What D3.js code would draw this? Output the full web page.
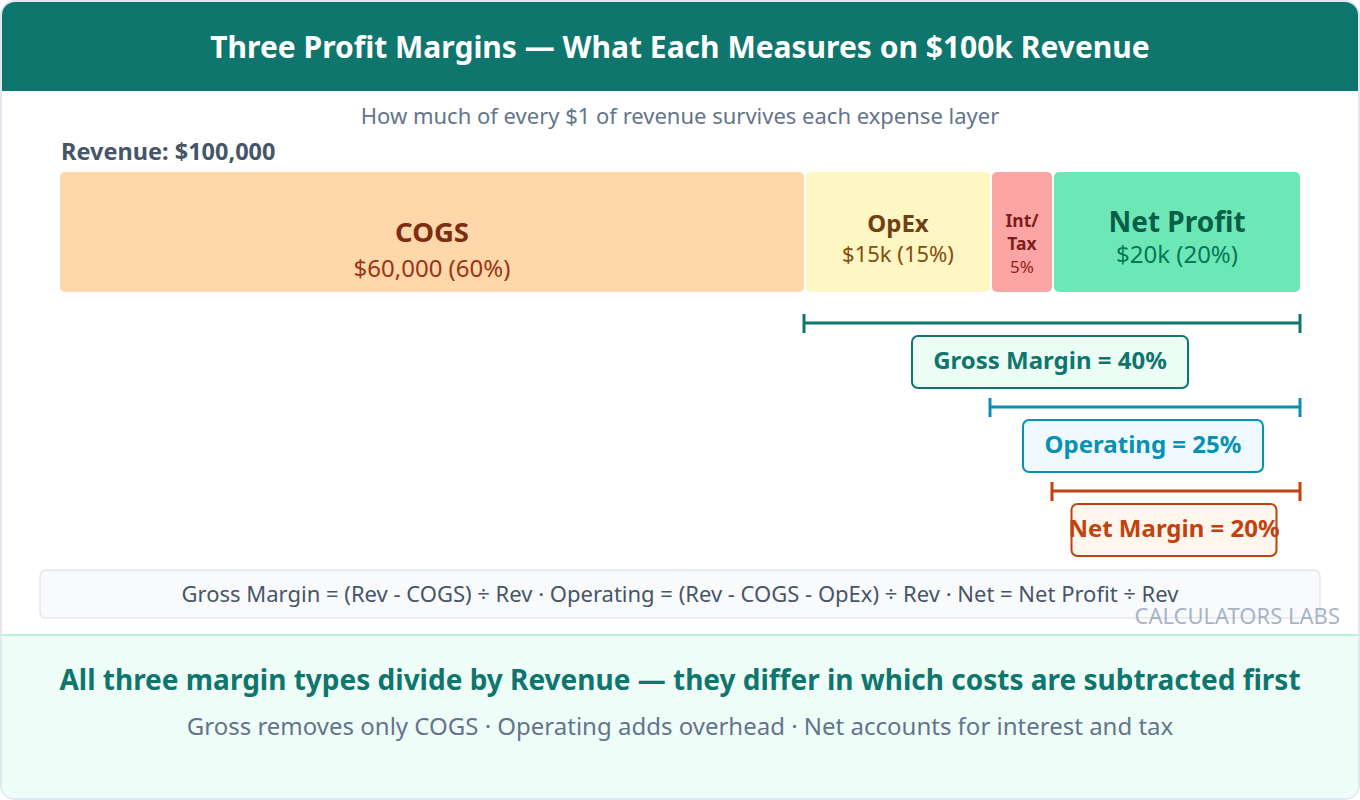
<!DOCTYPE html>
<html>
<head>
<meta charset="utf-8">
<script src="https://cdn.jsdelivr.net/npm/d3@7"></script>
<style>
  body { margin: 0; background: #ffffff; }
  svg text { font-family: "Noto Sans", "Open Sans", sans-serif; }
</style>
</head>
<body>
<script>
// chart data
var revenue = 100000;
var segNames = ["COGS", "OpEx", "Int/Tax", "Net Profit"];
var segValues = [60, 15, 5, 20];           // % of revenue
var segAmounts = ["$60,000 (60%)", "$15k (15%)", "5%", "$20k (20%)"];
var segFill = ["#fed7aa", "#fef7c3", "#fca5a5", "#6ee7b7"];
var segInk = ["#7c2d12", "#713f12", "#7f1d1d", "#065f46"];
var segSubInk = ["#9a3412", "#854d0e", "#991b1b", "#047857"];

var marginNames = ["Gross Margin", "Operating", "Net Margin"];
var marginValues = [40, 25, 20];
var marginColor = ["#0f766e", "#0891b2", "#c2410c"];
var marginFill = ["#ecfdf5", "#f0f9ff", "#fff7ed"];
var marginBoxW = [276, 240, 205];

var W = 1360, H = 800;

var svg = d3.select("body").append("svg")
    .attr("width", W)
    .attr("height", H);

// card
svg.append("rect")
    .attr("x", 1).attr("y", 1).attr("width", W - 2).attr("height", H - 2)
    .attr("rx", 14).attr("fill", "#ffffff").attr("stroke", "#e2e8f0").attr("stroke-width", 2);

var clip = svg.append("clipPath").attr("id", "card");
clip.append("rect").attr("x", 2).attr("y", 2).attr("width", W - 4).attr("height", H - 4).attr("rx", 13);

var card = svg.append("g").attr("clip-path", "url(#card)");
card.append("rect").attr("x", 0).attr("y", 0).attr("width", W).attr("height", 91).attr("fill", "#0f766e");
card.append("rect").attr("x", 0).attr("y", 635).attr("width", W).attr("height", H - 635).attr("fill", "#effdf8");
card.append("line").attr("x1", 0).attr("x2", W).attr("y1", 635).attr("y2", 635)
    .attr("stroke", "#bbf0dc").attr("stroke-width", 2);

svg.append("text")
    .attr("x", W / 2).attr("y", 58)
    .attr("text-anchor", "middle")
    .attr("fill", "#ffffff").attr("font-size", 30).attr("font-weight", 700)
    .text("Three Profit Margins \u2014 What Each Measures on $100k Revenue");

svg.append("text")
    .attr("x", W / 2).attr("y", 124)
    .attr("text-anchor", "middle")
    .attr("fill", "#64748b").attr("font-size", 22)
    .text("How much of every $1 of revenue survives each expense layer");

svg.append("text")
    .attr("x", 61).attr("y", 160)
    .attr("fill", "#475569").attr("font-size", 23.5).attr("font-weight", 700)
    .text("Revenue: " + d3.format("$,")(revenue));

// stacked bar
var x = d3.scaleLinear().domain([0, 100]).range([60, 1300]);
var barY = 172, barH = 120;

var segs = [];
var acc = 0;
segValues.forEach(function (v, i) {
  segs.push({name: segNames[i], v: v, x0: acc, x1: acc + v, amt: segAmounts[i], i: i});
  acc += v;
});

var sg = svg.selectAll("g.seg").data(segs).enter().append("g").attr("class", "seg");

sg.append("rect")
    .attr("x", function (d) { return x(d.x0) + (d.i ? 2 : 0); })
    .attr("width", function (d) { return x(d.x1) - x(d.x0) - (d.i ? 2 : 0); })
    .attr("y", barY).attr("height", barH)
    .attr("rx", 5)
    .attr("fill", function (d) { return segFill[d.i]; });

var labelStyle = [
  {size: 27.5, y: 242, sub: 24, subY: 277},
  {size: 24, y: 232, sub: 22, subY: 262},
  {size: 17.5, y: 227, sub: 17, subY: 273},
  {size: 28, y: 232, sub: 24, subY: 263}
];

sg.each(function (d) {
  var g = d3.select(this);
  var cx = (x(d.x0) + x(d.x1)) / 2 + (d.i ? 1 : 0);
  var s = labelStyle[d.i];
  if (d.name === "Int/Tax") {
    g.append("text").attr("x", cx).attr("y", s.y).attr("text-anchor", "middle")
        .attr("font-size", s.size).attr("font-weight", 700).attr("fill", segInk[d.i]).text("Int/");
    g.append("text").attr("x", cx).attr("y", s.y + 23).attr("text-anchor", "middle")
        .attr("font-size", s.size).attr("font-weight", 700).attr("fill", segInk[d.i]).text("Tax");
  } else {
    g.append("text").attr("x", cx).attr("y", s.y).attr("text-anchor", "middle")
        .attr("font-size", s.size).attr("font-weight", 700).attr("fill", segInk[d.i]).text(d.name);
  }
  g.append("text").attr("x", cx).attr("y", s.subY).attr("text-anchor", "middle")
      .attr("font-size", s.sub).attr("fill", segSubInk[d.i]).text(d.amt);
});

// margin brackets
var brackets = marginValues.map(function (v, i) {
  return {name: marginNames[i], v: v, i: i, y: 323 + i * 84};
});

var bg = svg.selectAll("g.bracket").data(brackets).enter().append("g").attr("class", "bracket");

bg.each(function (d) {
  var g = d3.select(this);
  var x0 = x(100 - d.v), x1 = x(100);
  var c = marginColor[d.i];
  g.append("line").attr("x1", x0).attr("x2", x1).attr("y1", d.y).attr("y2", d.y)
      .attr("stroke", c).attr("stroke-width", 3);
  [x0, x1].forEach(function (px) {
    g.append("line").attr("x1", px).attr("x2", px).attr("y1", d.y - 9).attr("y2", d.y + 10)
        .attr("stroke", c).attr("stroke-width", 3);
  });
  var cx = (x0 + x1) / 2 - 2;
  var bw = marginBoxW[d.i];
  g.append("rect")
      .attr("x", cx - bw / 2).attr("y", d.y + 13).attr("width", bw).attr("height", 52)
      .attr("rx", 6).attr("fill", marginFill[d.i]).attr("stroke", c).attr("stroke-width", 2);
  g.append("text")
      .attr("x", cx).attr("y", d.y + 46).attr("text-anchor", "middle")
      .attr("font-size", 24).attr("font-weight", 700).attr("fill", c)
      .text(d.name + " = " + d.v + "%");
});

// formula box
svg.append("rect")
    .attr("x", 40).attr("y", 570).attr("width", 1280).attr("height", 48)
    .attr("rx", 6).attr("fill", "#f8fafc").attr("stroke", "#e2e8f0").attr("stroke-width", 1.5);
svg.append("text")
    .attr("x", W / 2).attr("y", 602).attr("text-anchor", "middle")
    .attr("font-size", 22).attr("fill", "#475569")
    .text("Gross Margin = (Rev - COGS) \u00f7 Rev \u00b7 Operating = (Rev - COGS - OpEx) \u00f7 Rev \u00b7 Net = Net Profit \u00f7 Rev");

svg.append("text")
    .attr("x", 1340).attr("y", 624).attr("text-anchor", "end")
    .attr("font-size", 22).attr("fill", "#94a3b8").attr("opacity", 0.8)
    .text("CALCULATORS LABS");

// footer
svg.append("text")
    .attr("x", W / 2).attr("y", 690).attr("text-anchor", "middle")
    .attr("font-size", 28).attr("font-weight", 700).attr("fill", "#0f766e")
    .text("All three margin types divide by Revenue \u2014 they differ in which costs are subtracted first");
svg.append("text")
    .attr("x", W / 2).attr("y", 735).attr("text-anchor", "middle")
    .attr("font-size", 24).attr("fill", "#64748b")
    .text("Gross removes only COGS \u00b7 Operating adds overhead \u00b7 Net accounts for interest and tax");
</script>
</body>
</html>
